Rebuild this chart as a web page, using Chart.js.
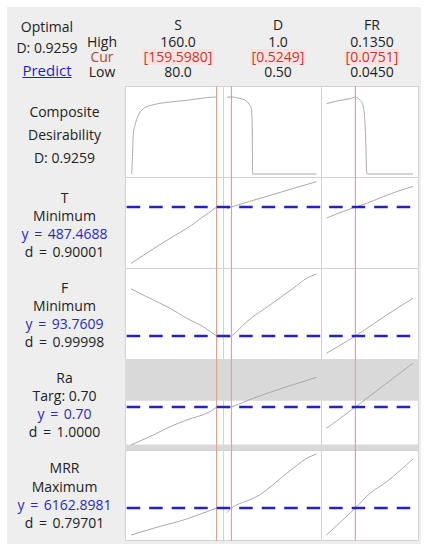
<!DOCTYPE html>
<html>
<head>
<meta charset="utf-8">
<script src="https://cdn.jsdelivr.net/npm/chart.js@4.4.1/dist/chart.umd.min.js"></script>
<style>
  body { margin: 0; background: #fff; font-family: "Open Sans", "Noto Sans", sans-serif; }
  #frame { position: absolute; left: 7px; top: 7px; width: 414px; height: 537px; background: #eeeeee; }
  .lbl { position: absolute; transform: translateX(-50%); white-space: nowrap; font-size: 14px; line-height: 16px; color: #222; }
  .ln { position: absolute; background: #d2d2d2; }
  canvas { position: absolute; }
</style>
</head>
<body>
<div id="frame"></div>
<div class="ln" id="plotBg" style="left:125px;top:86px;width:294px;height:455px;background:#fff"></div>

<script>
// factor settings
const factorNames = ["S", "D", "FR"];
const factorHigh = ["160.0", "1.0", "0.1350"];
const factorLow = ["80.0", "0.50", "0.0450"];
const factorCur = [159.5980, 0.5249, 0.0751];
const factorCurText = ["[159.5980]", "[0.5249]", "[0.0751]"];

// responses
const responseNames = ["T", "F", "Ra", "MRR"];
const responseGoals = ["Minimum", "Minimum", "Targ: 0.70", "Maximum"];
const responsePred = [487.4688, 93.7609, 0.70, 6162.8981];
const responsePredText = ["y = 487.4688", "y = 93.7609", "y = 0.70", "y = 6162.8981"];
const responseD = ["d = 0.90001", "d = 0.99998", "d = 1.0000", "d = 0.79701"];
const compositeD = 0.9259;

// Ra shaded limits
const raUpper = 0.75;
const raLower = 0.40;

// composite desirability traces
const compVsS = [[80, 0], [80.6, 0.01], [82.1, 0.465], [83.7, 0.585], [86.8, 0.705], [91.4, 0.785], [100.7, 0.833], [116.3, 0.865], [131.8, 0.886], [150.4, 0.918], [159.598, 0.9259], [160, 0.9259]];
const compVsD = [[0.5, 0.924], [0.5249, 0.9259], [0.57, 0.91], [0.61, 0.875], [0.628, 0.826], [0.638, 0.745], [0.641, 0.505], [0.643, 0.01], [0.645, 0], [1.0, 0]];
const compVsFR = [[0.045, 0.845], [0.059, 0.886], [0.0695, 0.905], [0.0751, 0.9259], [0.0799, 0.886], [0.0833, 0.805], [0.085, 0.625], [0.0861, 0.304], [0.0868, 0.024], [0.0875, 0], [0.135, 0]];

// T traces
const tVsS = [[80, 262], [100.7, 320], [116.3, 362], [136.5, 415], [144.2, 440], [159.598, 487.4688], [160, 489]];
const tVsD = [[0.5, 481], [0.5249, 487.4688], [0.75, 536], [1.0, 589]];
const tVsFR = [[0.045, 443], [0.059, 465], [0.0751, 487.4688], [0.0868, 502], [0.104, 529], [0.118, 549], [0.135, 570]];

// F traces
const fVsS = [[80, 141], [94.6, 133], [116.3, 121.5], [131.8, 111.5], [147.3, 103], [159.598, 93.7609], [160, 93.5]];
const fVsD = [[0.5, 92.5], [0.5249, 93.7609], [0.61, 108], [0.74, 124.8], [0.87, 141.5], [0.945, 151.5], [1.0, 155.8]];
const fVsFR = [[0.045, 76.5], [0.0751, 93.7609], [0.1076, 114.8], [0.135, 131.5]];

// Ra traces
const raVsS = [[80, 0.396], [100.7, 0.476], [116.3, 0.542], [131.8, 0.596], [153.5, 0.662], [159.598, 0.70], [160, 0.703]];
const raVsD = [[0.5, 0.69], [0.5249, 0.70], [0.647, 0.77], [0.834, 0.862], [1.0, 0.938]];
const raVsFR = [[0.045, 0.53], [0.0751, 0.70], [0.1007, 0.85], [0.135, 1.05]];

// MRR traces
const mrrVsS = [[80, 4003], [100.7, 4539], [131.8, 5283], [159.598, 6162.8981], [160, 6175]];
const mrrVsD = [[0.5, 5800], [0.5249, 6162.8981], [0.647, 6939], [0.687, 7250], [0.834, 8939], [0.946, 10139], [1.0, 10483]];
const mrrVsFR = [[0.045, 4003], [0.0751, 6162.8981], [0.0903, 7339], [0.1076, 8267], [0.135, 10083]];

const traces = [
  [compVsS, compVsD, compVsFR],
  [tVsS, tVsD, tVsFR],
  [fVsS, fVsD, fVsFR],
  [raVsS, raVsD, raVsFR],
  [mrrVsS, mrrVsD, mrrVsFR]
];

// layout of the panel grid
const rowTops = [86, 177, 268, 359, 450];
const colLefts = [125, 223, 321];
const panelW = 98, panelH = 91;
const xRanges = [[74.42, 165.58], [0.4777, 1.0251], [0.03928, 0.14124]];
const yRanges = [[-0.036, 1.058], [243.47, 607.47], [70.76, 161.76], [0.356, 1.084], [3522.9, 10802.9]];

const dashPeriod = 22.5;
const dashStart = 126.7;

function label(text, x, y, style) {
  const d = document.createElement("div");
  d.className = "lbl";
  d.textContent = text;
  d.style.left = x + "px";
  d.style.top = (y - 8) + "px";
  if (style) Object.assign(d.style, style);
  document.body.appendChild(d);
  return d;
}

function line(x, y, w, h) {
  const d = document.createElement("div");
  d.className = "ln";
  d.style.left = x + "px"; d.style.top = y + "px";
  d.style.width = w + "px"; d.style.height = h + "px";
  document.body.appendChild(d);
}

// header text
label("Optimal", 47, 27);
label("D: " + compositeD.toFixed(4), 47, 48);
label("Predict", 47, 70, { color: "#1f1fd0", textDecoration: "underline", fontSize: "15px" });
label("High", 102, 42);
label("Cur", 102, 57, { color: "#b4492c" });
label("Low", 102, 72);
const headCenters = [178, 278, 372];
factorNames.forEach((n, i) => {
  label(n, headCenters[i], 25);
  label(factorHigh[i], headCenters[i], 42);
  label(factorCurText[i], headCenters[i], 57, { color: "#c0392b", background: "#fbe1e1", padding: "0 1px" });
  label(factorLow[i], headCenters[i], 72);
});

// row text
const rowTextY = [[112, 135, 158], [198, 216, 234, 252], [288, 306, 324, 342], [378, 396, 414, 432], [468, 487, 505, 523]];
label("Composite", 64.5, rowTextY[0][0]);
label("Desirability", 64.5, rowTextY[0][1]);
label("D: " + compositeD.toFixed(4), 64.5, rowTextY[0][2]);
responseNames.forEach((n, i) => {
  const ys = rowTextY[i + 1];
  label(n, 64.5, ys[0]);
  label(responseGoals[i], 64.5, ys[1]);
  label(responsePredText[i], 64.5, ys[2], { color: "#2a2ab8", wordSpacing: "2px" });
  label(responseD[i], 64.5, ys[3], { wordSpacing: "2px" });
});

// grid lines of the panel block
line(125, 86, 294, 1);
[177, 268, 359, 450].forEach(y => line(125, y, 294, 1));
line(125, 540, 294, 1);
[125, 223, 321, 418].forEach(x => line(x, 86, 1, 455));

function pts(arr) {
  return arr.map(p => ({ x: p[0], y: p[1] }));
}

for (let r = 0; r < 5; r++) {
  for (let c = 0; c < 3; c++) {
    const xr = xRanges[c], yr = yRanges[r];
    const datasets = [];
    if (r === 3) {
      datasets.push({ data: [{ x: xr[0], y: raUpper }, { x: xr[1], y: raUpper }], fill: "end", backgroundColor: "#d9d9d9", borderWidth: 0, order: 5 });
      datasets.push({ data: [{ x: xr[0], y: raLower }, { x: xr[1], y: raLower }], fill: "start", backgroundColor: "#d9d9d9", borderWidth: 0, order: 5 });
    }
    datasets.push({
      data: [{ x: factorCur[c], y: yr[0] }, { x: factorCur[c], y: yr[1] }],
      borderColor: "#d9a694", borderWidth: 1.2, order: 4
    });
    datasets.push({
      data: pts(traces[r][c]),
      borderColor: "#a9a9a9", borderWidth: 1, cubicInterpolationMode: "monotone", order: 2
    });
    if (r > 0) {
      const off = (((colLefts[c] - dashStart) % dashPeriod) + dashPeriod) % dashPeriod;
      datasets.push({
        data: [{ x: xr[0], y: responsePred[r - 1] }, { x: xr[1], y: responsePred[r - 1] }],
        borderColor: "#2121c4", borderWidth: 2.6, borderDash: [13.5, 9], borderDashOffset: off, order: 1
      });
    }
    const cv = document.createElement("canvas");
    cv.width = panelW; cv.height = panelH;
    cv.style.left = colLefts[c] + "px";
    cv.style.top = rowTops[r] + "px";
    document.body.appendChild(cv);
    new Chart(cv, {
      type: "line",
      data: { datasets: datasets },
      options: {
        responsive: false,
        animation: false,
        devicePixelRatio: 1,
        layout: { padding: 0 },
        plugins: { legend: { display: false }, tooltip: { enabled: false } },
        elements: { point: { radius: 0 } },
        scales: {
          x: { type: "linear", min: xr[0], max: xr[1], display: false },
          y: { type: "linear", min: yr[0], max: yr[1], display: false }
        }
      }
    });
  }
}
</script>
</body>
</html>
